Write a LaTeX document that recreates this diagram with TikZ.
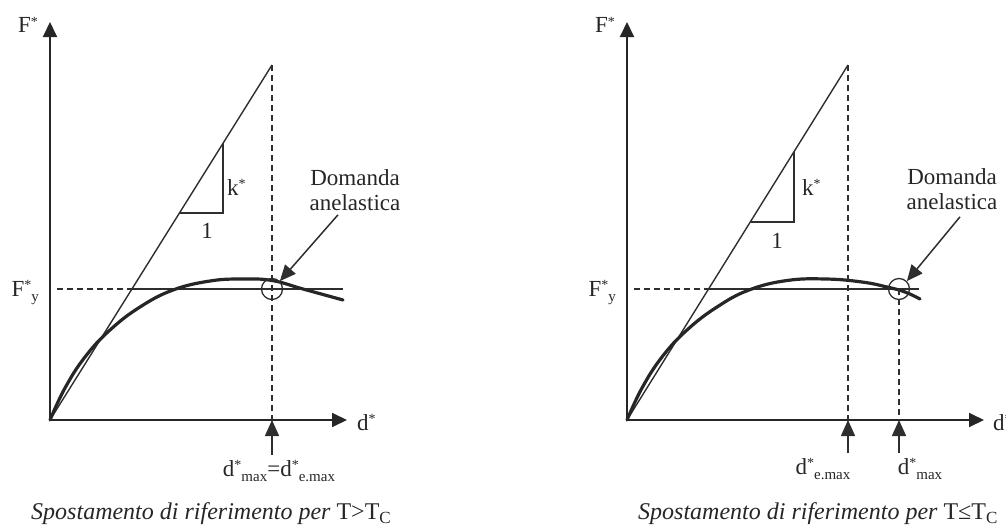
\documentclass[tikz,border=0pt]{standalone}
\usepackage{fontspec}
\setmainfont{Liberation Serif}
\usetikzlibrary{arrows.meta}
\newcommand\Sst{\raisebox{0.6ex}{\fontsize{14}{14}\selectfont *}}
\newcommand\Sdn[1]{\raisebox{-5pt}{\fontsize{15}{15}\selectfont #1}}
\begin{document}
\begin{tikzpicture}[x=1pt,y=-1pt,
  axisline/.style={draw=black!85, line width=1.9pt, -{Triangle[length=15pt,width=14pt]}},
  thinline/.style={draw=black!82, line width=1.4pt},
  dashline/.style={draw=black!82, line width=1.5pt, dash pattern=on 6pt off 4pt},
  capacity/.style={draw=black!85, line width=3.2pt, line cap=round},
  lbl/.style={font=\fontsize{23}{25}\selectfont, text=black!85, inner sep=0pt},
  ringc/.style={draw=black!82, line width=1.3pt, circle, minimum size=21pt, inner sep=0pt},
  ptr/.style={draw=black!82, line width=1.5pt, -{Triangle[length=16pt,width=14pt]}}
]
\useasboundingbox (0,0) rectangle (1006,530);
% ---------------- left panel ----------------
\begin{scope}[shift={(50,420)}]
  \coordinate (LO) at (0,0);
  \coordinate (LY) at (0,-398);
  \coordinate (LX) at (297,0);
  \coordinate (LE) at (222,-355);
  \coordinate (LD) at (222,0);
  \coordinate (LA) at (222,35);
  \coordinate (LYa) at (7,-131);
  \coordinate (LYb) at (82,-131);
  \coordinate (LYc) at (293,-131);
  \draw[axisline] (LO) -- (LY);
  \draw[axisline] (LO) -- (LX);
  \draw[thinline] (LO) -- (LE);
  \draw[thinline] (173,-277) -- (173,-207) -- (129,-207);
  \draw[dashline] (LE) -- (LD);
  \draw[dashline] (LYa) -- (LYb);
  \draw[thinline] (LYb) -- (LYc);
  \draw[capacity] plot[smooth, tension=0.7] coordinates {(0,0) (15,-32) (35,-63) (60,-90) (90,-113) (123,-130) (160,-139) (192,-141) (222,-139.5) (253,-131) (293,-120)};
  \node[ringc] (LC) at (222,-131) {};
  \node[lbl] (LF) at (-22,-395) {F\Sst};
  \node[lbl, anchor=base east] (LFy) at (-11,-124) {F\Sst\Sdn{y}};
  \node[lbl, anchor=base west] (Lk) at (177,-225) {k\Sst};
  \node[lbl, anchor=base] (L1) at (157,-182) {1};
  \node[lbl, anchor=base west] (Ldx) at (307,10) {d\Sst};
  \node[lbl, anchor=base] (Ldm) at (229,56) {d\Sst\Sdn{max}=d\Sst\Sdn{e.max}};
  \node[lbl, align=center] (LDom) at (305,-230) {Domanda\\anelastica};
  \draw[ptr] (LA) -- (LD);
  \draw[ptr] ([xshift=-17pt,yshift=-4pt]LDom.south) -- (LC.45);
\end{scope}
% ---------------- right panel ----------------
\begin{scope}[shift={(627,420)}]
  \coordinate (RO) at (0,0);
  \coordinate (RY) at (0,-398);
  \coordinate (RX) at (357,0);
  \coordinate (RE) at (221,-355);
  \coordinate (RD) at (221,0);
  \coordinate (RA) at (221,33);
  \coordinate (RD2) at (272,0);
  \coordinate (RA2) at (272,33);
  \coordinate (RYa) at (7,-131);
  \coordinate (RYb) at (82,-131);
  \coordinate (RYc) at (292,-131);
  \draw[axisline] (RO) -- (RY);
  \draw[axisline] (RO) -- (RX);
  \draw[thinline] (RO) -- (RE);
  \draw[thinline] (167,-268) -- (167,-198) -- (124,-198);
  \draw[dashline] (RE) -- (RD);
  \draw[dashline] (RYa) -- (RYb);
  \draw[thinline] (RYb) -- (RYc);
  \draw[capacity] plot[smooth, tension=0.7] coordinates {(0,0) (15,-32) (35,-63) (60,-90) (90,-113) (122,-130) (160,-139.5) (199,-141) (235,-138) (260,-133) (278,-128) (293,-121)};
  \node[ringc] (RC) at (272,-131) {};
  \draw[dashline] (RC.center) -- (RD2);
  \node[lbl] (RF) at (-22,-395) {F\Sst};
  \node[lbl, anchor=base east] (RFy) at (-11,-124) {F\Sst\Sdn{y}};
  \node[lbl, anchor=base west] (Rk) at (175,-225) {k\Sst};
  \node[lbl, anchor=base] (R1) at (150,-172) {1};
  \node[lbl, anchor=base west] (Rdx) at (366,10) {d\Sst};
  \node[lbl, anchor=base] (Rde) at (196,54) {d\Sst\Sdn{e.max}};
  \node[lbl, anchor=base] (Rdm) at (293,54) {d\Sst\Sdn{max}};
  \node[lbl, align=center] (RDom) at (325,-231) {Domanda\\anelastica};
  \draw[ptr] (RA) -- (RD);
  \draw[ptr] (RA2) -- (RD2);
  \draw[ptr] ([xshift=8pt,yshift=-7pt]RDom.south) -- (RC.45);
\end{scope}
% ---------------- captions ----------------
\node[lbl, font=\fontsize{24}{26}\selectfont, anchor=base] (capL) at (211,519)
  {\itshape Spostamento di riferimento per \upshape T>T\raisebox{-4pt}{\fontsize{17}{17}\selectfont C}};
\node[lbl, font=\fontsize{24}{26}\selectfont, anchor=base west] (capR) at (638,519)
  {\itshape Spostamento di riferimento per \upshape T≤T\raisebox{-4pt}{\fontsize{17}{17}\selectfont C}};
\end{tikzpicture}
\end{document}
